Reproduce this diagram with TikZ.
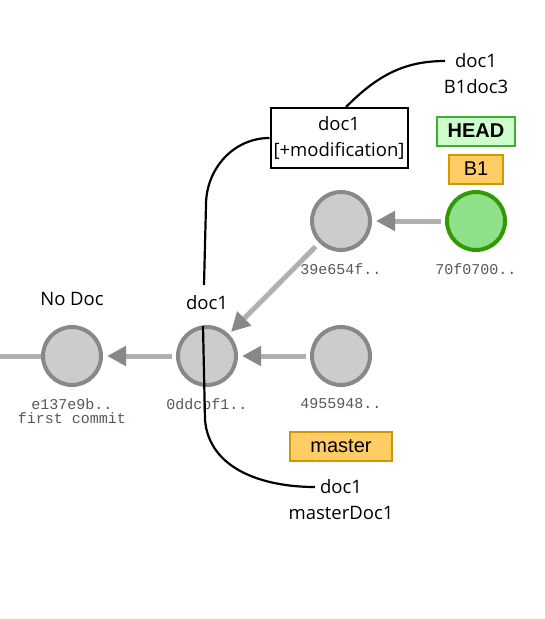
\documentclass[tikz,border=0pt]{standalone}
\usepackage{fontspec}
\setmainfont{Open Sans}
\setmonofont{Liberation Mono}
\newfontfamily\arialfont{Liberation Sans}
\usetikzlibrary{positioning,arrows.meta}
\definecolor{cfill}{HTML}{CCCCCC}
\definecolor{cline}{HTML}{888888}
\definecolor{gfill}{HTML}{8EE08A}
\definecolor{gline}{HTML}{339900}
\definecolor{hfill}{HTML}{CCFFCC}
\definecolor{hline}{HTML}{44AA33}
\definecolor{bfill}{HTML}{FFCC66}
\definecolor{bline}{HTML}{CC9900}
\definecolor{aline}{HTML}{B0B0B0}
\definecolor{hashcol}{HTML}{5E5650}
\tikzset{
 commit/.style={circle,draw=cline,fill=cfill,line width=4pt,minimum size=58pt,inner sep=0pt},
 headcommit/.style={commit,draw=gline,fill=gfill},
 hash/.style={font=\fontsize{15}{14}\ttfamily,text=hashcol,align=center,inner sep=0pt},
 txt/.style={font=\fontsize{18.5}{26}\selectfont,align=center,inner sep=0pt},
 parent/.style={draw=aline,line width=5pt,-{Triangle[length=19pt,width=19pt,color=cline]}},
 refbox/.style={draw=bline,fill=bfill,line width=2pt,font=\fontsize{20}{20}\arialfont,inner sep=0pt,minimum height=29pt},
 note/.style={black,line width=2.2pt}
}
\begin{document}
\begin{tikzpicture}[x=1pt,y=-1pt]
\useasboundingbox (0,0) rectangle (544,619);
% % commits
\node[commit] (e137) at (72,356) {};
\node[commit] (c0dd) at (207,356) {};
\node[commit] (c495) at (341,356) {};
\node[commit] (c39e) at (341,221) {};
\node[headcommit] (c70f) at (476,221) {};
% hashes
\node[hash] (he137) at (72,411) {e137e9b..\\first commit};
\node[hash] (hc0dd) at (207,404) {0ddcbf1..};
\node[hash] (hc495) at (341,404) {4955948..};
\node[hash] (hc39e) at (341,269) {39e654f..};
\node[hash] (hc70f) at (476,269) {70f0700..};
% refs
\node[refbox,draw=hline,fill=hfill,minimum width=78pt,font=\fontsize{20}{20}\arialfont\bfseries] (HEAD) at (476,131) {HEAD};
\node[refbox,minimum width=54pt] (B1) at (476,169) {B1};
\node[refbox,minimum width=102pt] (master) at (341,446) {master};
% parents
\coordinate (stub) at (0,356);
\draw[draw=aline,line width=5pt] (stub) -- (e137);
\draw[parent,shorten <=4pt,shorten >=4pt] (c0dd) -- (e137);
\draw[parent,shorten <=4pt,shorten >=4pt] (c495) -- (c0dd);
\draw[parent,shorten <=4pt,shorten >=4pt] (c70f) -- (c39e);
\draw[parent,shorten <=5pt,shorten >=3pt] (c39e) -- (c0dd);
% files
\node[txt] (nodoc) at (72,299) {No Doc};
\node[txt] (doclbl) at (207,303) {doc1};
\node[txt,draw,line width=2pt,minimum width=137pt,minimum height=60pt] (mod) at (339,138) {doc1\\{}[+modification]};
\node[txt] (b1doc) at (476,74) {doc1\\B1doc3};
\node[txt] (mdoc) at (341,500) {doc1\\masterDoc1};
\coordinate (topA) at (204,285);
\coordinate (topB) at (203,326);
\coordinate (endB) at (315,487);
\coordinate (endC) at (445,61);
\draw[note] (mod.west) to[out=180,in=90] (206,205) -- (topA);
\draw[note] (topB) -- (205,420) to[out=-85,in=180] (endB);
\draw[note] ([xshift=7pt]mod.north) to[out=45,in=180] (endC);
\end{tikzpicture}
\end{document}
